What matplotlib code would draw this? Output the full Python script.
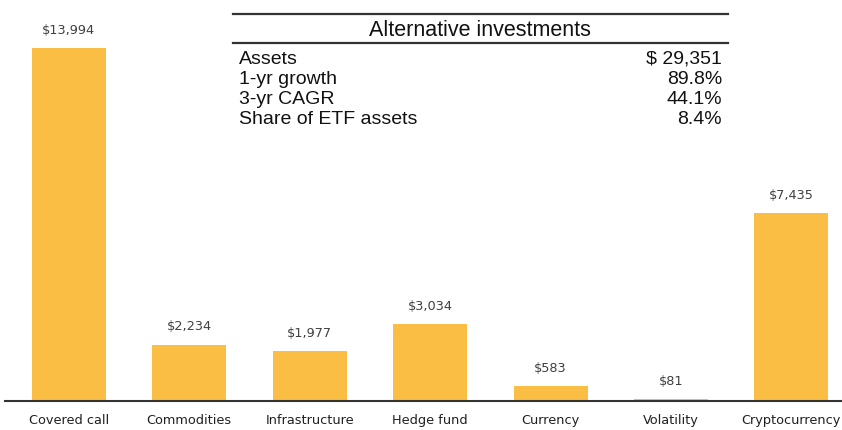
import matplotlib.pyplot as plt
from matplotlib.lines import Line2D

categories = ['Covered call', 'Commodities', 'Infrastructure', 'Hedge fund',
              'Currency', 'Volatility', 'Cryptocurrency']
assets = [13994, 2234, 1977, 3034, 583, 81, 7435]

table_title = 'Alternative investments'
table_labels = ['Assets', '1-yr growth', '3-yr CAGR', 'Share of ETF assets']
table_values = ['$ 29,351', '89.8%', '44.1%', '8.4%']

W, H = 842, 430
fig = plt.figure(figsize=(W / 100, H / 100), dpi=100)
ax = fig.add_axes([5 / W, 29 / H, 837 / W, 372 / H])

x = list(range(len(categories)))
ax.bar(x, assets, width=0.615, color='#FBBE45')
for xi, v in zip(x, assets):
    ax.text(xi, v + 450, f'${v:,}', ha='center', va='bottom',
            fontsize=9.3, color='#404040')

ax.set_xlim(-0.53, 6.42)
ax.set_ylim(0, 14750)
ax.set_yticks([])
ax.set_xticks(x)
ax.set_xticklabels(categories, fontsize=9.3, color='#202020')
ax.tick_params(axis='x', length=0, pad=9.5)
for s in ['top', 'right', 'left']:
    ax.spines[s].set_visible(False)
ax.spines['bottom'].set_linewidth(1.5)
ax.spines['bottom'].set_color('#333333')

# summary table
def fx(px):
    return px / W

def fy(py):
    return 1 - py / H

for py in (14, 43):
    fig.add_artist(Line2D([fx(233), fx(728)], [fy(py), fy(py)],
                          color='#333333', lw=1.6))
fig.text(fx(480), fy(30), table_title, ha='center', va='center',
         fontsize=15.5, family='Liberation Sans', color='#111111')
for i, (lab, val) in enumerate(zip(table_labels, table_values)):
    yy = fy(59 + i * 20)
    fig.text(fx(239), yy, lab, ha='left', va='center',
             fontsize=14, family='Liberation Sans', color='#111111')
    fig.text(fx(722), yy, val, ha='right', va='center',
             fontsize=14, family='Liberation Sans', color='#111111')

fig.savefig('out.png', dpi=100)
